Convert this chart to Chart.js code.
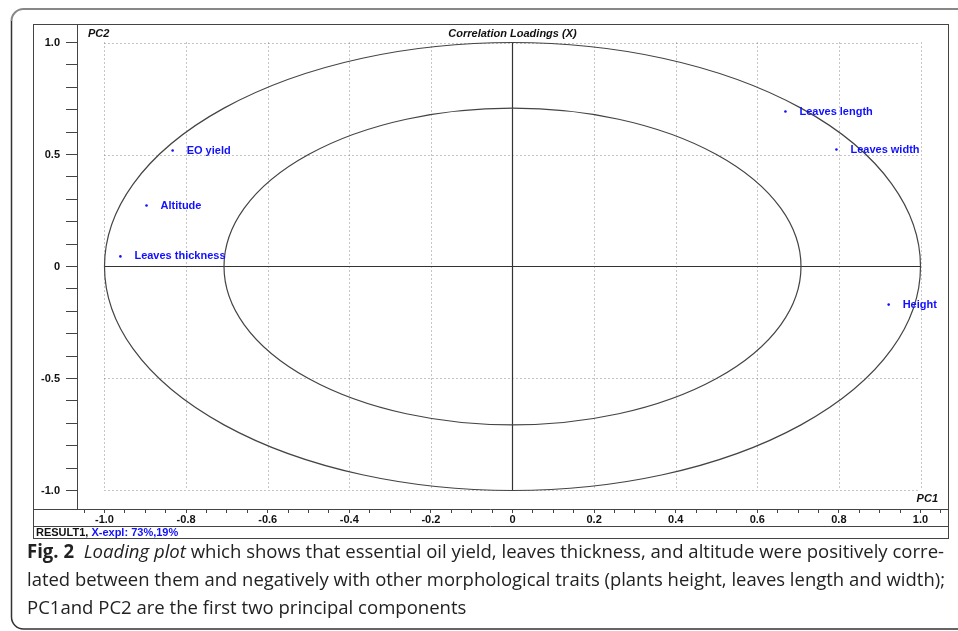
<!DOCTYPE html>
<html>
<head>
<meta charset="utf-8">
<script src="https://cdn.jsdelivr.net/npm/chart.js@4.4.1/dist/chart.umd.min.js"></script>
<style>
  html, body { margin: 0; padding: 0; background: #fff; overflow: hidden; }
  body { width: 958px; height: 631px; position: relative; }
  #c { position: absolute; left: 0; top: 0; }
  .cap { position: absolute; left: 27px; font-family: "Open Sans", sans-serif; font-size: 19px;
         color: #222; white-space: nowrap; transform-origin: 0 0; line-height: 20px; }
</style>
</head>
<body>
<canvas id="c" width="958" height="631"></canvas>
<div class="cap" id="l1" style="top:541px"><b>Fig. 2</b>&nbsp; <i>Loading plot</i> which shows that essential oil yield, leaves thickness, and altitude were positively corre-</div>
<div class="cap" id="l2" style="top:569px">lated between them and negatively with other morphological traits (plants height, leaves length and width);</div>
<div class="cap" id="l3" style="top:597px">PC1and PC2 are the first two principal components</div>
<script>
// ---- data ----
const variables = ['EO yield', 'Altitude', 'Leaves thickness', 'Leaves length', 'Leaves width', 'Height'];
const pc1 = [-0.833, -0.897, -0.961, 0.669, 0.794, 0.922];
const pc2 = [0.518, 0.272, 0.045, 0.692, 0.522, -0.170];
const circleRadii = [1.0, 0.7071];
const xTickValues = [-1.05, -1.0, -0.95, -0.9, -0.85, -0.8, -0.75, -0.7, -0.65, -0.6, -0.55, -0.5, -0.45, -0.4, -0.35, -0.3, -0.25, -0.2, -0.15, -0.1, -0.05, 0, 0.05, 0.1, 0.15, 0.2, 0.25, 0.3, 0.35, 0.4, 0.45, 0.5, 0.55, 0.6, 0.65, 0.7, 0.75, 0.8, 0.85, 0.9, 0.95, 1.0, 1.05];
const xMajor = [-1.0, -0.8, -0.6, -0.4, -0.2, 0, 0.2, 0.4, 0.6, 0.8, 1.0];
const xMajorLabels = ['-1.0', '-0.8', '-0.6', '-0.4', '-0.2', '0', '0.2', '0.4', '0.6', '0.8', '1.0'];
const yTickValues = [-1.0, -0.9, -0.8, -0.7, -0.6, -0.5, -0.4, -0.3, -0.2, -0.1, 0, 0.1, 0.2, 0.3, 0.4, 0.5, 0.6, 0.7, 0.8, 0.9, 1.0];
const yMajor = [-1.0, -0.5, 0, 0.5, 1.0];
const yMajorLabels = ['-1.0', '-0.5', '0', '0.5', '1.0'];
const gridX = [-1.0, -0.8, -0.6, -0.4, -0.2, 0.2, 0.4, 0.6, 0.8, 1.0];
const gridY = [-1.0, -0.5, 0.5, 1.0];
const chartTitle = 'Correlation Loadings (X)';
const xAxisName = 'PC1';
const yAxisName = 'PC2';
const resultName = 'RESULT1,';
const explained = 'X-expl: 73%,19%';

const AXFONT = 'bold 11px "Liberation Sans", Arial, sans-serif';
const BLUE = '#1010ff';

function labelFor(v, majors, labels) {
  for (let i = 0; i < majors.length; i++) if (Math.abs(majors[i] - v) < 1e-6) return labels[i];
  return '';
}

const decor = {
  id: 'decor',
  beforeDraw(chart) {
    // figure card: open on the right
    const ctx = chart.ctx;
    ctx.save();
    ctx.lineWidth = 2; ctx.strokeStyle = '#888';
    ctx.beginPath(); ctx.moveTo(960, 9); ctx.lineTo(24, 9); ctx.arcTo(11.5, 9, 11.5, 22, 12); ctx.stroke();
    ctx.lineWidth = 1.5; ctx.strokeStyle = '#333';
    ctx.beginPath(); ctx.moveTo(11.5, 21); ctx.lineTo(11.5, 617); ctx.arcTo(11.5, 629, 24, 629, 12); ctx.lineTo(960, 629); ctx.stroke();
    ctx.restore();
  },
  beforeDatasetsDraw(chart) {
    const ctx = chart.ctx, xs = chart.scales.x, ys = chart.scales.y;
    ctx.save();
    ctx.strokeStyle = '#8a8a8a'; ctx.lineWidth = 1; ctx.setLineDash([1, 3]);
    const yT = ys.getPixelForValue(1), yB = ys.getPixelForValue(-1);
    const xL = xs.getPixelForValue(-1), xR = xs.getPixelForValue(1);
    gridX.forEach(v => { const p = Math.round(xs.getPixelForValue(v)) + 0.5; ctx.beginPath(); ctx.moveTo(p, yT); ctx.lineTo(p, yB); ctx.stroke(); });
    gridY.forEach(v => { const p = Math.round(ys.getPixelForValue(v)) + 0.5; ctx.beginPath(); ctx.moveTo(xL, p); ctx.lineTo(xR, p); ctx.stroke(); });
    ctx.setLineDash([]);
    ctx.strokeStyle = '#333'; ctx.lineWidth = 1.2;
    const y0 = ys.getPixelForValue(0), x0 = xs.getPixelForValue(0);
    ctx.beginPath(); ctx.moveTo(xL, y0); ctx.lineTo(xR, y0); ctx.stroke();
    ctx.beginPath(); ctx.moveTo(x0, yT); ctx.lineTo(x0, yB); ctx.stroke();
    ctx.strokeStyle = '#444'; ctx.lineWidth = 1.2;
    circleRadii.forEach(r => {
      const rx = xs.getPixelForValue(r) - x0, ry = y0 - ys.getPixelForValue(r);
      ctx.beginPath(); ctx.ellipse(x0, y0, rx, ry, 0, 0, Math.PI * 2); ctx.stroke();
    });
    ctx.restore();
  },
  afterDatasetsDraw(chart) {
    const ctx = chart.ctx, meta = chart.getDatasetMeta(0);
    ctx.save();
    ctx.font = AXFONT; ctx.fillStyle = BLUE; ctx.textBaseline = 'middle'; ctx.textAlign = 'left';
    meta.data.forEach((pt, i) => { ctx.fillText(variables[i], pt.x + 14, pt.y); });
    ctx.restore();
  },
  afterDraw(chart) {
    const ctx = chart.ctx, ca = chart.chartArea, xs = chart.scales.x;
    const fL = 33, fR = 948, fT = 24, fB = 538;
    ctx.save();
    ctx.strokeStyle = '#444'; ctx.lineWidth = 1;
    ctx.strokeRect(fL + 0.5, fT + 0.5, fR - fL, fB - fT);
    ctx.beginPath(); ctx.moveTo(fL, ca.bottom + 0.5); ctx.lineTo(fR, ca.bottom + 0.5); ctx.stroke();
    ctx.beginPath(); ctx.moveTo(fL, 526.5); ctx.lineTo(fR, 526.5); ctx.stroke();
    ctx.font = 'bold italic 11px "Liberation Sans", Arial, sans-serif';
    ctx.fillStyle = '#111'; ctx.textBaseline = 'middle';
    ctx.textAlign = 'center';
    ctx.fillText(chartTitle, xs.getPixelForValue(0), 34);
    ctx.textAlign = 'left';
    ctx.fillText(yAxisName, 88, 34);
    ctx.textAlign = 'right';
    ctx.fillText(xAxisName, 938, 499);
    ctx.font = AXFONT; ctx.textAlign = 'left';
    ctx.fillStyle = '#111';
    ctx.fillText(resultName, 36, 533);
    const w = ctx.measureText(resultName + ' ').width;
    ctx.fillStyle = BLUE;
    ctx.fillText(explained, 36 + w, 533);
    ctx.restore();
  }
};

new Chart(document.getElementById('c'), {
  type: 'scatter',
  data: {
    datasets: [{
      data: pc1.map((v, i) => ({ x: v, y: pc2[i] })),
      pointRadius: 1.3, pointHoverRadius: 1.3, borderWidth: 0,
      backgroundColor: BLUE, pointBorderColor: BLUE
    }]
  },
  options: {
    responsive: false, animation: false, devicePixelRatio: 1,
    layout: { padding: { left: 33, top: 24, right: 10, bottom: 105 } },
    plugins: { legend: { display: false }, tooltip: { enabled: false }, title: { display: false } },
    scales: {
      x: {
        type: 'linear', min: -1.0674, max: 1.0674,
        afterBuildTicks: s => { s.ticks = xTickValues.map(v => ({ value: v })); },
        afterFit: s => { s.height = 17; },
        border: { display: false },
        grid: { drawOnChartArea: false, drawTicks: true, tickLength: 4, color: '#444', tickWidth: 1 },
        ticks: { autoSkip: false, maxRotation: 0, padding: 0, color: '#111', font: { family: '"Liberation Sans", Arial, sans-serif', size: 11, weight: 'bold' },
                 callback: v => labelFor(v, xMajor, xMajorLabels) }
      },
      y: {
        type: 'linear', min: -1.0826, max: 1.0826,
        afterBuildTicks: s => { s.ticks = yTickValues.map(v => ({ value: v })); },
        afterFit: s => { s.width = 44; },
        border: { display: true, color: '#444', width: 1 },
        grid: { drawOnChartArea: false, drawTicks: true, tickLength: 11, color: '#444', tickWidth: 1 },
        ticks: { autoSkip: false, padding: 6, color: '#111', font: { family: '"Liberation Sans", Arial, sans-serif', size: 11, weight: 'bold' },
                 callback: v => labelFor(v, yMajor, yMajorLabels) }
      }
    }
  },
  plugins: [decor]
});

function fit(id, target) {
  const el = document.getElementById(id);
  const w = el.getBoundingClientRect().width;
  const f = target / w;
  el.style.transform = 'scaleX(' + f + ')';
  return f;
}
const f1 = fit('l1', 917);
fit('l2', 918);
document.getElementById('l3').style.transform = 'scaleX(' + f1 + ')';
</script>
</body>
</html>
